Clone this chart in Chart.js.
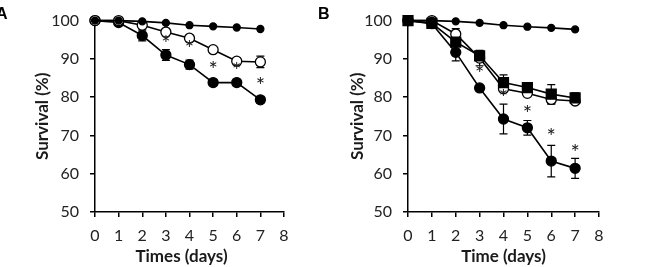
<!DOCTYPE html>
<html><head><meta charset="utf-8">
<script src="https://cdn.jsdelivr.net/npm/chart.js@4/dist/chart.umd.min.js"></script>
<style>
html,body{margin:0;padding:0;background:#fff;width:653px;height:267px;overflow:hidden;position:relative}
canvas{position:absolute;top:0}
#ca{left:0}
#cb{left:330px}
.lbl{position:absolute;font:bold 16px "Liberation Sans",Arial,sans-serif;color:#000;line-height:1}
</style></head><body>
<canvas id="ca" width="310" height="267"></canvas>
<canvas id="cb" width="323" height="267"></canvas>
<div class="lbl" style="left:-4px;top:6px">A</div>
<div class="lbl" style="left:318px;top:6px">B</div>
<script>
// ---------- data ----------
const days = [0, 1, 2, 3, 4, 5, 6, 7];
const yTicks = [50, 60, 70, 80, 90, 100];
const xTicks = [0, 1, 2, 3, 4, 5, 6, 7, 8];

// Panel A
const ctrlA = [100, 100, 99.8, 99.4, 98.8, 98.5, 98.2, 97.8];
const openA = [100, 100, 98.8, 97.0, 95.4, 92.4, 89.4, 89.2];
const openAErr = [0, 0, 0.6, 1.0, 0.5, 0.4, 0.9, 1.5];
const fillA = [100, 99.5, 96.1, 91.0, 88.5, 83.8, 83.8, 79.3];
const fillAErr = [0, 0, 1.4, 1.4, 1.2, 0.8, 0.8, 0.8];
const starsA = [null, null, null, 93.5, 92.0, 86.5, 86.3, 82.3];

// Panel B
const ctrlB = [100, 100, 99.8, 99.4, 98.8, 98.4, 98.1, 97.7];
const sqB = [100, 99.3, 94.4, 90.8, 83.8, 82.5, 80.8, 79.8];
const sqBErr = [0, 0, 0.8, 0.7, 2.0, 0.5, 2.5, 1.3];
const openB = [100, 100, 96.5, 90.2, 82.2, 81.0, 79.4, 79.0];
const openBErr = [0, 0, 1.4, 2.0, 0.6, 0.5, 1.2, 0.8];
const fillB = [100, 99.2, 91.7, 82.4, 74.3, 72.0, 63.3, 61.4];
const fillBErr = [0, 0, 2.2, 0.5, 3.9, 1.9, 4.1, 2.6];
const starsB = [null, null, null, 85.5, 79.2, 75.2, 69.0, 64.9];

// ---------- helpers ----------
const pts = vals => days.map((d, i) => ({x: d, y: vals[i]}));
const INK = '#000';
const FONT = 'Lato';

const errPlugin = {
  id: 'errbars',
  beforeDatasetsDraw(chart) {
    const {ctx, scales: {x, y}} = chart;
    ctx.save();
    ctx.strokeStyle = INK;
    ctx.lineWidth = 1.2;
    chart.data.datasets.forEach(ds => {
      if (!ds.errors) return;
      ds.data.forEach((p, i) => {
        const e = ds.errors[i];
        if (!e) return;
        const px = x.getPixelForValue(p.x);
        const y1 = y.getPixelForValue(p.y + e), y2 = y.getPixelForValue(p.y - e);
        ctx.beginPath();
        ctx.moveTo(px, y1); ctx.lineTo(px, y2);
        ctx.moveTo(px - 4, y1); ctx.lineTo(px + 4, y1);
        ctx.moveTo(px - 4, y2); ctx.lineTo(px + 4, y2);
        ctx.stroke();
      });
    });
    ctx.restore();
  },
  afterDatasetsDraw(chart) {
    const {ctx, scales: {x, y}} = chart;
    ctx.save();
    ctx.fillStyle = '#1a1a1a';
    ctx.font = '22px ' + FONT;
    ctx.textAlign = 'center';
    ctx.textBaseline = 'middle';
    chart.data.datasets.forEach(ds => {
      if (!ds.stars) return;
      ds.stars.forEach((s, i) => {
        if (s == null) return;
        ctx.fillText('*', x.getPixelForValue(days[i]), y.getPixelForValue(s) - 2);
      });
    });
    ctx.restore();
  },
  afterDraw(chart) {
    const o = chart.options.plugins.xtitle;
    const {ctx, chartArea} = chart;
    ctx.save();
    ctx.fillStyle = '#1a1a1a';
    ctx.font = 'bold 17px ' + FONT;
    ctx.textAlign = 'center';
    ctx.textBaseline = 'middle';
    ctx.fillText(o.text, (chartArea.left + chartArea.right) / 2 + o.shift, o.y);
    ctx.restore();
  }
};

function series(vals, opts) {
  return Object.assign({
    data: pts(vals), borderColor: INK, borderWidth: 1.6, backgroundColor: INK,
    pointBorderColor: INK, pointBackgroundColor: INK, pointBorderWidth: 1.3,
    pointStyle: 'circle', pointRadius: 5, tension: 0, clip: false, showLine: true
  }, opts);
}

function makeChart(id, datasets, cfg) {
  return new Chart(document.getElementById(id), {
    type: 'scatter',
    data: {datasets},
    plugins: [errPlugin],
    options: {
      responsive: false, animation: false, devicePixelRatio: 1,
      layout: {padding: {left: 0, top: cfg.top, right: cfg.right, bottom: 0}},
      plugins: {legend: {display: false}, tooltip: {enabled: false},
        xtitle: {text: cfg.xTitle, shift: cfg.xShift, y: 257}},
      scales: {
        x: {
          type: 'linear', min: 0, max: 8,
          afterBuildTicks: s => { s.ticks = xTicks.map(v => ({value: v})); },
          afterFit: s => { s.height = cfg.xh; },
          border: {color: INK, width: 1.5},
          grid: {drawOnChartArea: false, drawTicks: true, tickLength: 5, color: INK, lineWidth: 1.5},
          ticks: {color: '#222', font: {family: FONT, size: 16}, padding: 9, maxRotation: 0, autoSkip: false},
          title: {display: false}
        },
        y: {
          min: 50, max: 100,
          afterBuildTicks: s => { s.ticks = yTicks.map(v => ({value: v})); },
          afterFit: s => { s.width = cfg.yw; },
          border: {color: INK, width: 1.5},
          grid: {drawOnChartArea: false, drawTicks: true, tickLength: 5, color: INK, lineWidth: 1.5},
          ticks: {color: '#222', font: {family: FONT, size: 16}, padding: 11},
          title: {display: true, text: 'Survival (%)', color: '#1a1a1a', font: {family: FONT, size: 17, weight: 'bold'}, padding: {top: cfg.yt, bottom: 0}}
        }
      }
    }
  });
}

makeChart('ca', [
  series(ctrlA, {pointRadius: 3.5}),
  series(openA, {errors: openAErr, pointBackgroundColor: '#fff'}),
  series(fillA, {errors: fillAErr, stars: starsA})
], {top: 11, right: 26, xh: 55, yw: 95, yt: 32, xTitle: 'Times (days)', xShift: -8});

makeChart('cb', [
  series(ctrlB, {pointRadius: 3.5}),
  series(sqB, {errors: sqBErr, pointStyle: 'rect', pointRadius: 7}),
  series(openB, {errors: openBErr, pointBackgroundColor: '#fff'}),
  series(fillB, {errors: fillBErr, stars: starsB})
], {top: 13, right: 54, xh: 55, yw: 78, yt: 17, xTitle: 'Time (days)', xShift: 0});
</script>
</body></html>
